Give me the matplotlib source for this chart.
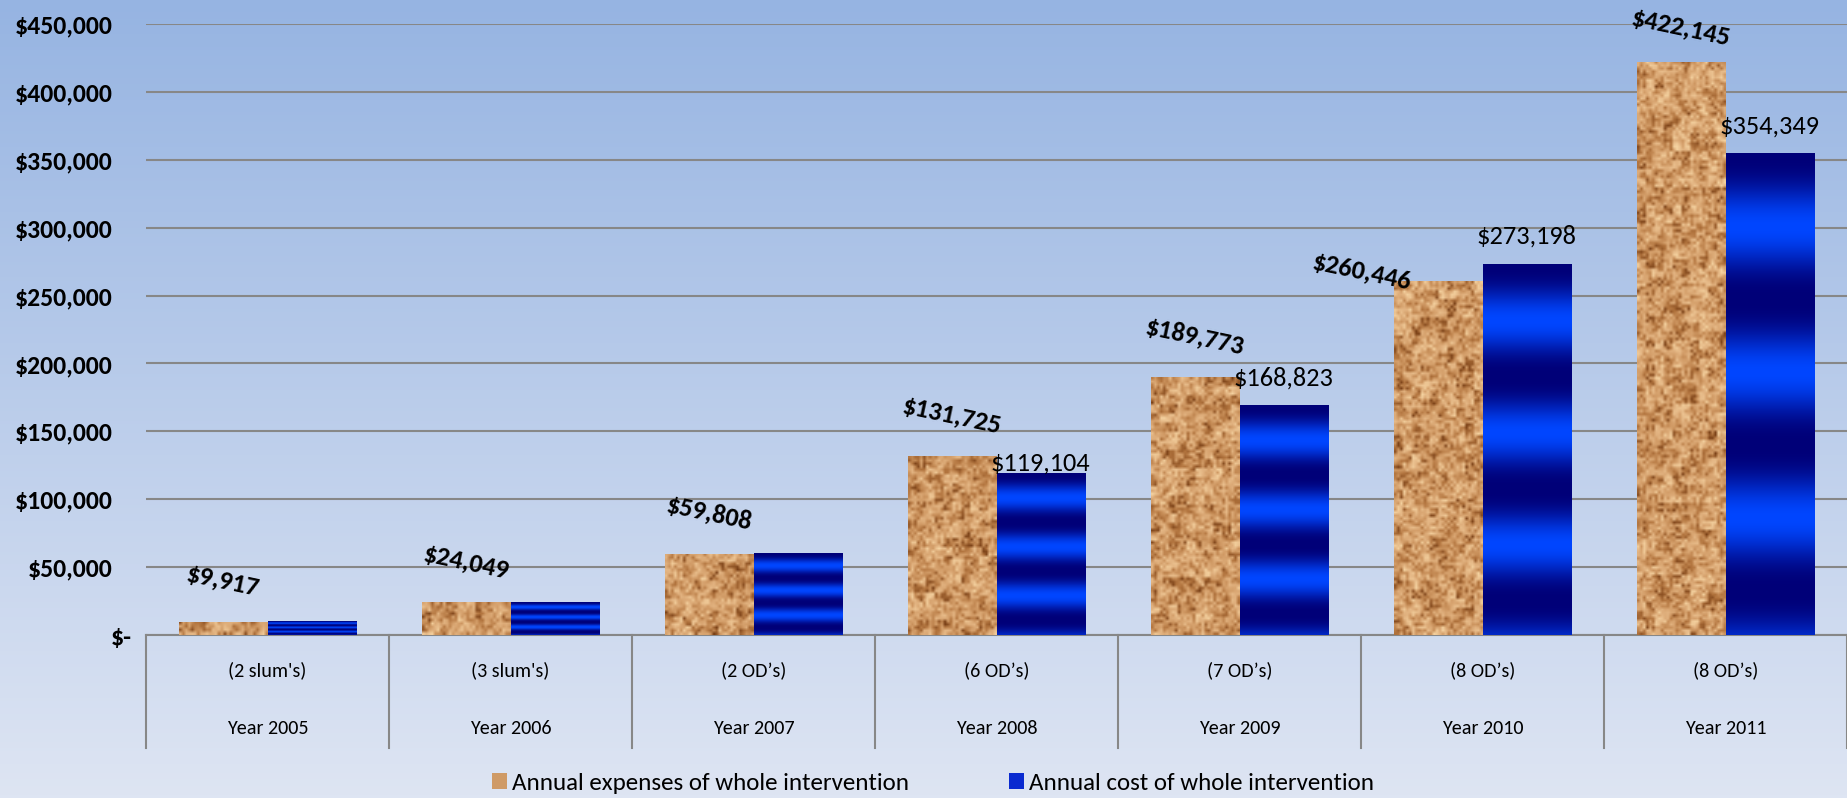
import numpy as np
import matplotlib
matplotlib.use('Agg')
import matplotlib.pyplot as plt
import matplotlib.transforms as mtrans
from matplotlib.colors import LinearSegmentedColormap
from matplotlib.patches import Patch

plt.rcParams['font.family'] = ['Carlito', 'DejaVu Sans']

# data
years = ['Year 2005', 'Year 2006', 'Year 2007', 'Year 2008', 'Year 2009', 'Year 2010', 'Year 2011']
groups = ["(2 slum's)", "(3 slum's)", "(2 OD\u2019s)", "(6 OD\u2019s)", "(7 OD\u2019s)", "(8 OD\u2019s)", "(8 OD\u2019s)"]
expenses = [9917, 24049, 59808, 131725, 189773, 260446, 422145]
costs = [9917, 24049, 59808, 119104, 168823, 273198, 354349]
series_names = ['Annual expenses of whole intervention', 'Annual cost of whole intervention']

W, H = 1847, 798
YMAX = 450000
GRAY = '#878787'
CORK = '#cf9a66'
BLUE = '#0a2ad0'
NAVY = np.array([0, 0, 120]) / 255
BRIGHT = np.array([0, 70, 255]) / 255

cork_cmap = LinearSegmentedColormap.from_list(
    'cork', ['#733a12', '#b1733d', '#d29c67', '#e4b684', '#f6d5a3'])


def hash2(i, j, s):
    # deterministic pseudo noise for the cork texture
    v = np.sin(i * 12.9898 + j * 78.233 + s * 4.1414) * 43758.5453
    return v - np.floor(v)


def cork_texture(rows, cols, seed):
    ii, jj = np.mgrid[0:rows, 0:cols]
    fine = hash2(ii, jj, seed)
    coarse = hash2(ii // 3, jj // 3, seed + 50)
    return 0.55 * fine + 0.45 * coarse


fig = plt.figure(figsize=(W / 100, H / 100), dpi=100)

# background gradient
bg = fig.add_axes([0, 0, 1, 1], zorder=-10)
g = np.linspace(0, 1, 256)[:, None, None]
top = np.array([150, 180, 226]) / 255
bottom = np.array([222, 229, 243]) / 255
bg.imshow(top * (1 - g) + bottom * g, aspect='auto', extent=[0, 1, 0, 1])
bg.axis('off')

ax = fig.add_axes([146 / W, 163 / H, (W - 146) / W, 611 / H])
ax.set_facecolor('none')

x = np.arange(len(years))
bw = 0.364
b1 = ax.bar(x - bw / 2, expenses, bw, color=CORK, zorder=3)
b2 = ax.bar(x + bw / 2, costs, bw, color=BLUE, zorder=3)

# cork texture on the expense bars
for i, r in enumerate(b1):
    x0, y0, w, h = r.get_x(), r.get_y(), r.get_width(), r.get_height()
    rows = max(int(h / YMAX * 611 / 3), 2)
    tex = cork_texture(rows, 30, i + 1)
    im = ax.imshow(tex, cmap=cork_cmap, vmin=0, vmax=1, extent=[x0, x0 + w, y0, y0 + h],
                   aspect='auto', interpolation='bilinear', zorder=3.5)
    im.set_clip_path(r)

# striped blue gradient on the cost bars
for r in b2:
    x0, y0, w, h = r.get_x(), r.get_y(), r.get_width(), r.get_height()
    t = np.linspace(0, 1, 300)[:, None, None]
    b = ((1 - np.cos(2 * np.pi * 3.3 * t)) / 2) ** 1.3
    img = NAVY + (BRIGHT - NAVY) * b
    ax.imshow(img, extent=[x0, x0 + w, y0, y0 + h], aspect='auto',
              interpolation='bilinear', zorder=3.5)

ax.set_xlim(-0.5, len(years) - 0.5)
ax.set_ylim(0, YMAX)

# y axis
yt = np.arange(0, YMAX + 1, 50000)
ax.set_yticks(yt, ['$-'] + [f'${v:,.0f}' for v in yt[1:]])
ax.tick_params(axis='y', length=0, pad=24, labelsize=18.5)
for lab in ax.get_yticklabels():
    lab.set_fontweight('bold')
ax.yaxis.grid(True, color=GRAY, lw=1.5)
ax.set_axisbelow(True)
for s in ['top', 'right', 'left']:
    ax.spines[s].set_visible(False)
ax.spines['bottom'].set_color(GRAY)
ax.spines['bottom'].set_linewidth(1.5)

# category axis, two rows
ax.set_xticks(x, groups)
ax.tick_params(axis='x', length=0, pad=19, labelsize=14.5)
sec = ax.secondary_xaxis('bottom')
sec.set_xticks(x, years)
sec.tick_params(length=0, pad=61, labelsize=14.5)
sec.spines['bottom'].set_visible(False)
for s in np.arange(-0.5, len(years), 1):
    ax.plot([s, s], [0, -0.185], transform=ax.get_xaxis_transform(),
            color=GRAY, lw=1.5, clip_on=False)

# data labels (a couple were dragged by hand in the original)
exp_nudge = {5: (-55, -22), 6: (0, -4)}
for i, v in enumerate(expenses):
    dx, dy = exp_nudge.get(i, (0, 0))
    ax.annotate(f'${v:,.0f}', xy=(x[i] - bw / 2, v), xytext=(dx, 29 + dy),
                textcoords='offset points', ha='center', va='center',
                rotation=-12, rotation_mode='anchor', fontsize=19,
                fontweight='bold', annotation_clip=False, zorder=5)
cost_dy = {3: 7}
for i, v in enumerate(costs):
    if v == expenses[i]:
        continue
    ax.annotate(f'${v:,.0f}', xy=(x[i] + bw / 2, v), xytext=(0, cost_dy.get(i, 20)),
                textcoords='offset points', ha='center', va='center',
                fontsize=19, annotation_clip=False, zorder=5)

fig.legend(handles=[Patch(facecolor=CORK), Patch(facecolor=BLUE)],
           labels=series_names, loc='center', bbox_to_anchor=(933 / W, 15 / H),
           ncol=2, frameon=False, fontsize=18, handlelength=0.6, handleheight=0.6,
           handletextpad=0.2, columnspacing=4.0)

# the "$-" label sits further right, accounting style
zero_lab = ax.get_yticklabels()[0]
zero_lab.set_transform(zero_lab.get_transform() +
                       mtrans.ScaledTranslation(19 / 100, 0, fig.dpi_scale_trans))

fig.savefig('out.png', dpi=100)
